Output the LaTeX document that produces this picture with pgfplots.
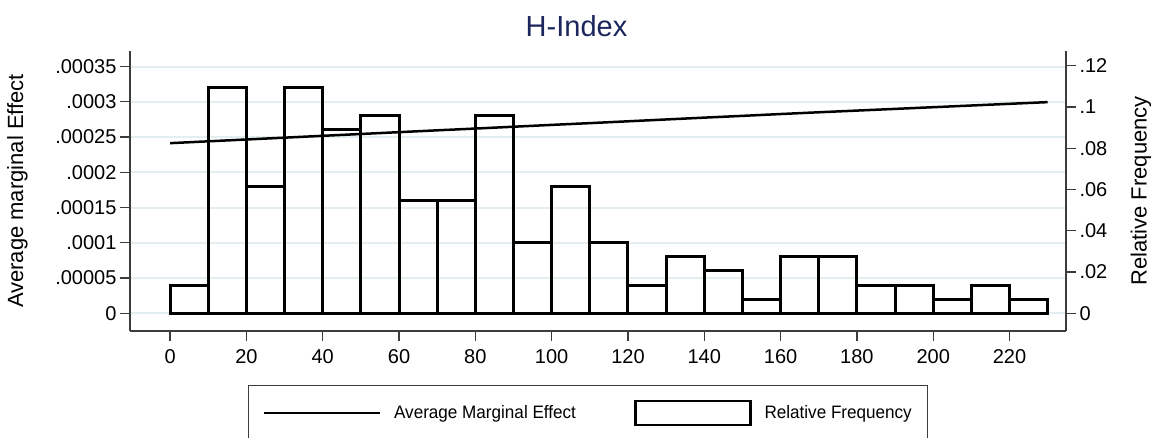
\documentclass[border=0pt]{standalone}
\usepackage{pgfplots}
\pgfplotsset{compat=1.18}
\usepackage{fontspec}
\setmainfont{Liberation Sans}
\newfontfamily\legfont[FakeStretch=0.95]{Liberation Sans}
\definecolor{titleblue}{RGB}{28,38,92}
\definecolor{gridc}{RGB}{228,238,240}
\definecolor{axisc}{RGB}{60,60,60}

\pgfplotsset{
  stataaxis/.style={
    scale only axis, width=936pt, height=280pt,
    at={(130pt,106pt)}, anchor=south west,
    xmin=-10.5, xmax=234.8,
    tick align=outside, major tick length=10pt,
    tick style={axisc, line width=1.2pt},
    axis line style={axisc, line width=1.2pt},
    tick label style={font=\fontsize{20}{24}\selectfont, black},
    label style={font=\fontsize{22}{26}\selectfont},
    /pgf/number format/assume math mode=true,
  }
}

\begin{document}
\begin{tikzpicture}
  % left axis: average marginal effect
  \begin{axis}[stataaxis,
      axis x line*=bottom, axis y line*=left,
      ymin=-0.0000251, ymax=0.000372,
      xtick={0,20,...,220},
      xticklabel style={yshift=-5pt},
      ytick={0,0.00005,0.0001,0.00015,0.0002,0.00025,0.0003,0.00035},
      yticklabels={0,.00005,.0001,.00015,.0002,.00025,.0003,.00035},
      scaled y ticks=false,
      ymajorgrids, grid style={gridc, line width=2pt},
      ylabel={Average marginal Effect},
      ylabel style={at={(axis description cs:-0.1202,0.5)}, anchor=center},
    ]
    \addplot[black, line width=2.5pt, mark=none] coordinates {
      (0,0.0002413) (10,0.0002439) (20,0.0002465) (30,0.0002491)
      (40,0.0002517) (50,0.0002543) (60,0.0002569) (70,0.0002595)
      (80,0.0002620) (90,0.0002646) (100,0.0002672) (110,0.0002697)
      (120,0.0002723) (130,0.0002749) (140,0.0002775) (150,0.0002800)
      (160,0.0002826) (170,0.0002851) (180,0.0002875) (190,0.0002899)
      (200,0.0002923) (210,0.0002947) (220,0.0002971) (230,0.0002995)
    };
  \end{axis}

  % right axis: histogram
  \begin{axis}[stataaxis,
      axis x line=none, axis y line*=right,
      ymin=-0.00858, ymax=0.1271,
      ytick={0,0.02,0.04,0.06,0.08,0.1,0.12},
      yticklabels={0,.02,.04,.06,.08,.1,.12},
      scaled y ticks=false,
      ylabel={Relative Frequency},
      ylabel style={at={(axis description cs:1.0801,0.5)}, anchor=center},
      legend columns=2,
      legend cell align=left,
      legend style={at={(axis description cs:0.1261,-0.1929)}, anchor=north west,
        draw=axisc, line width=1.2pt, fill=white,
        inner xsep=14pt, inner ysep=14pt,
        font=\legfont\fontsize{18}{22}\selectfont,
        /tikz/every odd column/.append style={column sep=11pt},
        /tikz/every even column/.append style={column sep=56pt}},
    ]
    \addlegendimage{legend image code/.code={\draw[black, line width=2.5pt] (0pt,0pt) -- (116pt,0pt);}}
    \addlegendentry{Average Marginal Effect}
    \addplot[ybar interval, draw=black, line width=3pt, fill=none,
      legend image code/.code={\draw[black, line width=2.5pt] (0pt,-12pt) rectangle (115pt,12pt);}]
      coordinates {
      (0,0.0137) (10,0.1096) (20,0.0616) (30,0.1096) (40,0.0890)
      (50,0.0959) (60,0.0548) (70,0.0548) (80,0.0959) (90,0.0342)
      (100,0.0616) (110,0.0342) (120,0.0137) (130,0.0274) (140,0.0205)
      (150,0.0068) (160,0.0274) (170,0.0274) (180,0.0137) (190,0.0137)
      (200,0.0068) (210,0.0137) (220,0.0068) (230,0.0068)
    };
    \addlegendentry{Relative Frequency}
  \end{axis}

  \node[font=\fontsize{29}{34}\selectfont, text=titleblue, anchor=base] at (576.5pt,400pt) {H-Index};

  \pgfresetboundingbox
  \path[use as bounding box] (0pt,0pt) rectangle (1159pt,437pt);
\end{tikzpicture}
\end{document}
